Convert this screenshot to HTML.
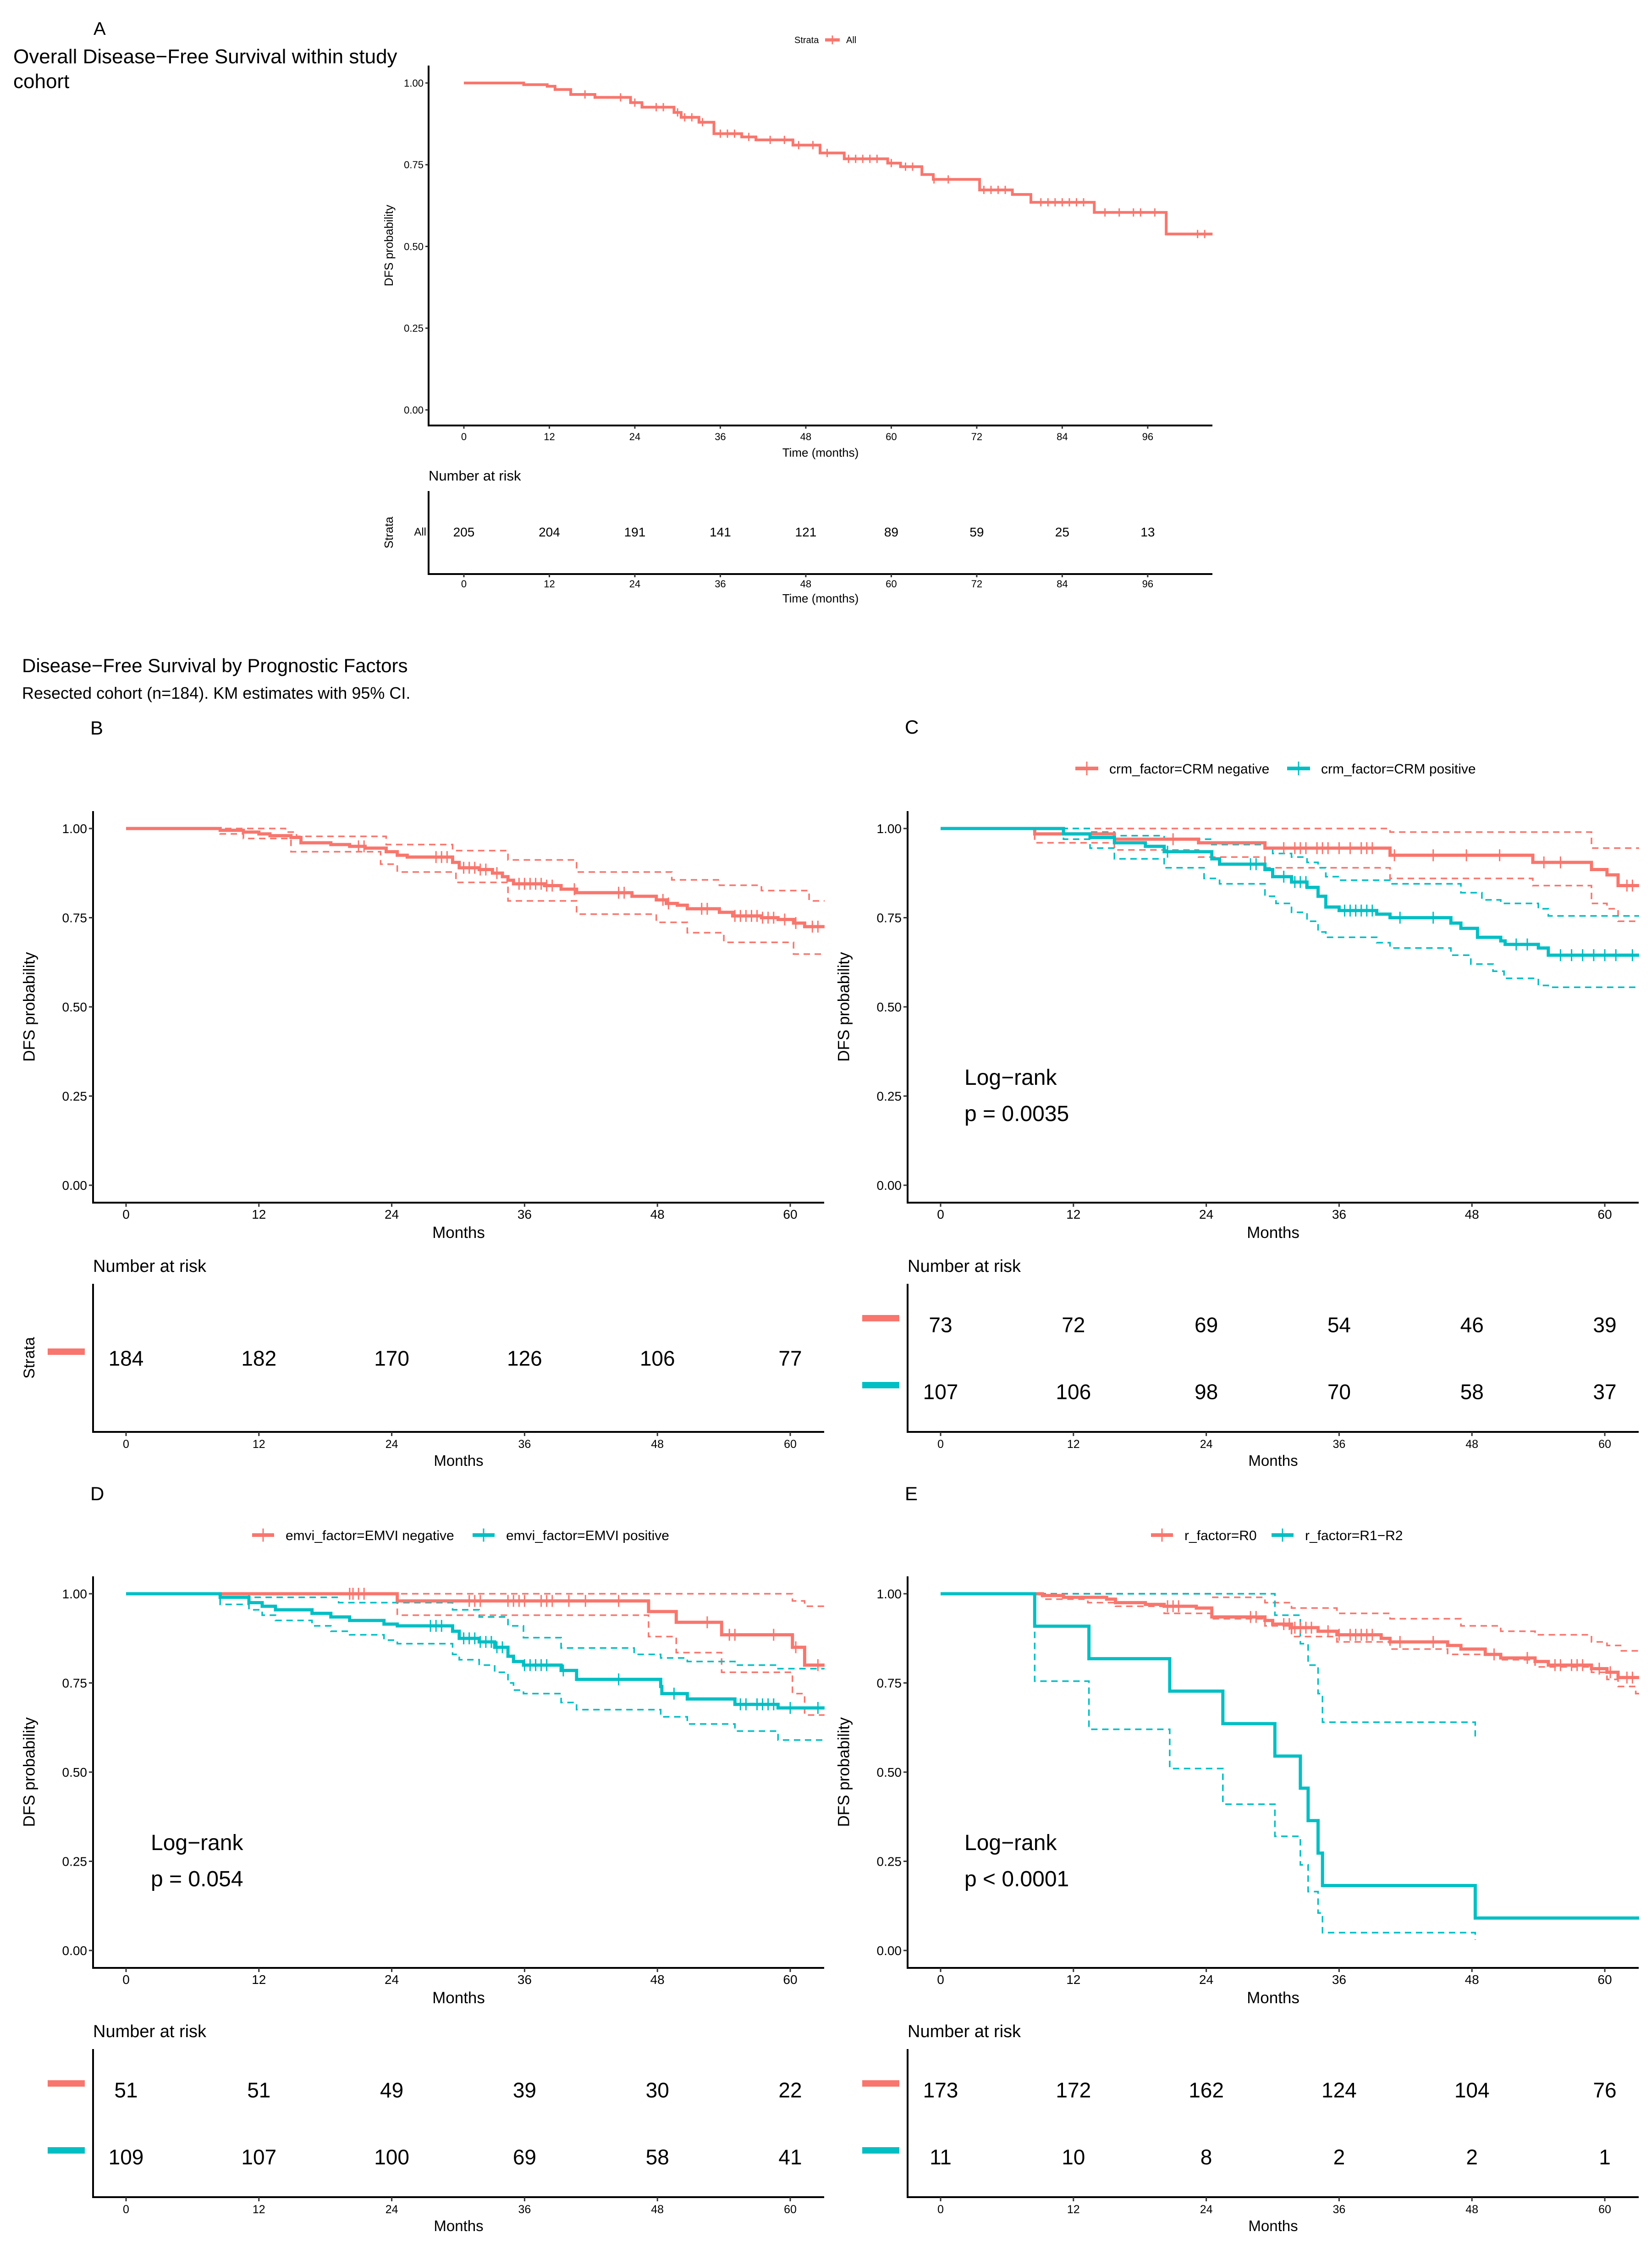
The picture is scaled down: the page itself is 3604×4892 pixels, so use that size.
<!DOCTYPE html>
<html><head><meta charset="utf-8"><title>DFS Kaplan-Meier figure</title>
<style>html,body{margin:0;padding:0;background:#fff}svg{display:block}text{font-family:"Liberation Sans",Arial,sans-serif;fill:#000}</style>
</head><body>
<svg id="fig" xmlns="http://www.w3.org/2000/svg" width="3604" height="4892" viewBox="0 0 3604 4892">
<rect x="0" y="0" width="3604" height="4892" fill="#fff"/>
<text x="204" y="76" font-size="40">A</text>
<text x="29" y="138" font-size="44">Overall Disease−Free Survival within study</text>
<text x="29" y="192" font-size="44">cohort</text>
<text x="48" y="1466" font-size="42">Disease−Free Survival by Prognostic Factors</text>
<text x="48" y="1524" font-size="36">Resected cohort (n=184). KM estimates with 95% CI.</text>
<text x="197" y="1602" font-size="42">B</text>
<text x="1974" y="1600" font-size="42">C</text>
<text x="197" y="3272" font-size="42">D</text>
<text x="1974" y="3272" font-size="42">E</text>
</svg>
<script>
// ---------- DATA ----------
const monthTicksA = [0,12,24,36,48,60,72,84,96];
const monthTicksB = [0,12,24,36,48,60];
const survTicks = [0,0.25,0.5,0.75,1];
const survTickLabels = ["0.00","0.25","0.50","0.75","1.00"];

// Panel A - All
const aTimes = [0,8.4,11.7,12.8,15,18.4,23.4,25,29.5,30.5,33,35.1,39,41,46.2,50,53.4,59.5,61.3,64.3,65.9,72.4,77,79.6,88.5,98.6];
const aSurv  = [1,0.995,0.99,0.98,0.965,0.956,0.94,0.926,0.91,0.895,0.88,0.845,0.835,0.826,0.81,0.786,0.768,0.755,0.744,0.72,0.705,0.673,0.659,0.635,0.604,0.538];
const aCensor = [17,22,24,27,28,30,31,32,33.5,36,37,38,40,43,45,47,49,51,54,55,56,57,58,60,62,63,66,68,73,74,75,76,81,82,83,84,85,86,87,90,92,94,95,97,103,104];
const aRisk = [205,204,191,141,121,89,59,25,13];

// Panel B - resected all
const bTimes = [0,8.5,10.6,12,13,14.9,15.8,18.5,20.2,21.6,23.5,24.5,25.4,29.5,30.1,31.9,33.1,34,34.5,35,37.8,39.3,40.7,45.7,47.9,48.8,49.8,50.7,53.6,54.8,57.4,58.9,60.3,61.3];
const bSurv  = [1,0.995,0.99,0.985,0.98,0.975,0.96,0.955,0.95,0.945,0.935,0.925,0.92,0.905,0.89,0.885,0.875,0.865,0.855,0.845,0.84,0.83,0.82,0.81,0.80,0.79,0.785,0.775,0.765,0.755,0.75,0.745,0.735,0.725];
const bUpTimes = [0,14.4,15.4,23.5,29.5,34.5,40.7,49.3,53.6,57.4,61.7];
const bUp      = [1,0.99,0.978,0.955,0.938,0.912,0.878,0.856,0.841,0.826,0.797];
const bLoTimes = [0,8.5,10.6,14.9,23,24.5,29.8,34.5,40.7,47.9,50.7,54,60.3];
const bLo      = [1,0.985,0.972,0.935,0.90,0.878,0.849,0.797,0.76,0.737,0.708,0.681,0.648];
const bCensor = [21,21.5,28,28.5,29,30.5,31,31.5,32,32.5,33.5,35.5,36,36.5,37,37.5,38,38.5,40.5,44.5,45,48.5,49,52,52.5,55,55.5,56,56.5,57,57.5,58,58.5,59.5,60.5,62,62.5];
const bRisk = [184,182,170,126,106,77];

// Panel C - CRM
const cNegTimes = [0,8.5,15.7,23.3,29.3,40.6,53.5,58.8,60.2,61.2];
const cNegSurv  = [1,0.985,0.97,0.96,0.945,0.925,0.905,0.885,0.87,0.84];
const cNegUpTimes = [0,40.6,58.8];
const cNegUp      = [1,0.99,0.945];
const cNegLoTimes = [0,8.5,15.7,23.3,29.3,40.6,53.5,58.8,60.2,61.2];
const cNegLo      = [1,0.96,0.94,0.92,0.89,0.86,0.84,0.79,0.775,0.74];
const cNegCensor = [21,31,32,32.5,33,34,34.5,35,36,37,38,38.5,39,41,44.5,47.5,50.5,54.5,56,62,62.5];
const cPosTimes = [0,11.1,13.5,15.7,18.5,20.2,24.5,25.2,29.3,30,31.7,33.1,34.1,34.8,36,39.4,40.6,46.1,47,48.5,50.6,51,54,54.9];
const cPosSurv  = [1,0.985,0.975,0.96,0.95,0.935,0.915,0.9,0.885,0.865,0.85,0.835,0.81,0.78,0.77,0.76,0.75,0.735,0.72,0.695,0.685,0.675,0.665,0.645];
const cPosUpTimes = [0,13.5,15.7,20.2,24.5,29.3,30,31.7,33.1,34.1,34.8,36,40.6,47,48.9,50.6,54,54.9];
const cPosUp      = [1,0.99,0.98,0.97,0.955,0.945,0.93,0.92,0.905,0.89,0.865,0.855,0.845,0.82,0.80,0.79,0.775,0.755];
const cPosLoTimes = [0,11.1,13.5,15.7,20.2,23.8,25.2,29.3,30.3,31.7,33.1,34.1,34.8,39.4,40.6,46.1,47.9,49.9,50.9,54,54.9];
const cPosLo      = [1,0.97,0.945,0.915,0.89,0.86,0.845,0.81,0.79,0.765,0.74,0.71,0.695,0.68,0.665,0.645,0.62,0.6,0.58,0.56,0.555];
const cPosCensor = [20.5,28,28.5,31,32,32.5,33,36.5,37,37.5,38,38.5,39,41.5,44.5,52,53,56,57,58,59,60,61,62.5];
const cRiskNeg = [73,72,69,54,46,39];
const cRiskPos = [107,106,98,70,58,37];

// Panel D - EMVI
const dNegTimes = [0,24.5,47.2,49.7,53.8,60.2,61.3];
const dNegSurv  = [1,0.98,0.95,0.92,0.885,0.85,0.80];
const dNegUpTimes = [0,60.2,61.3];
const dNegUp      = [1,0.98,0.965];
const dNegLoTimes = [0,24.5,47.2,49.7,53.8,60.2,61.3];
const dNegLo      = [1,0.94,0.88,0.835,0.78,0.72,0.66];
const dNegCensor = [20.2,20.5,21,21.5,31,31.5,32,34.5,35,35.5,36,37.5,38,38.5,40,41.5,44.5,52.5,54.5,55,58.5,60.5,62.5];
const dPosTimes = [0,8.5,11.1,12.3,13.5,16.8,18.5,20.2,23.3,24.5,29.5,30.1,31.9,33.3,34.5,35,35.9,39.3,40.7,48.3,48.4,50.7,55,58.9];
const dPosSurv  = [1,0.99,0.975,0.965,0.955,0.945,0.935,0.925,0.915,0.91,0.895,0.875,0.865,0.85,0.825,0.81,0.80,0.785,0.76,0.74,0.72,0.705,0.69,0.68];
const dPosUpTimes = [0,11.1,19.2,29.5,31.9,34.5,35.9,39.3,45.9,48.3,50.7,55,58.9];
const dPosUp      = [1,0.99,0.975,0.955,0.935,0.91,0.877,0.848,0.83,0.82,0.81,0.80,0.79];
const dPosLoTimes = [0,8.5,11.1,12.3,13.5,16.8,18.5,20.2,23.3,24.5,29.5,30.1,31.9,33.3,34.5,35,35.9,39.3,40.7,48.3,50.7,55,58.9];
const dPosLo      = [1,0.97,0.955,0.94,0.925,0.91,0.895,0.885,0.87,0.86,0.83,0.815,0.80,0.78,0.75,0.73,0.72,0.695,0.675,0.655,0.635,0.615,0.59];
const dPosCensor = [27.5,28,28.5,30.5,31,31.5,32,32.5,33,33.5,34,36,36.5,37,37.5,38,39.5,44.5,49.5,55.5,56,57,57.5,58,58.5,60,62.5];
const dRiskNeg = [51,51,49,39,30,22];
const dRiskPos = [109,107,100,69,58,41];

// Panel E - R status
const eR0Times = [0,9.2,11.1,15,15.8,18.5,20.2,23.1,24.5,29.3,30,31.7,34.1,35.8,39.8,40.6,45.8,47,49.2,50.6,53.7,54.9,58.8,60.2,61.2];
const eR0Surv  = [1,0.995,0.99,0.985,0.975,0.97,0.965,0.96,0.935,0.925,0.915,0.905,0.895,0.885,0.875,0.865,0.855,0.845,0.83,0.82,0.81,0.80,0.79,0.78,0.765];
const eR0UpTimes = [0,24.5,29.3,31.7,35.8,40.6,47,50.6,53.7,58.8,60.2,61.5];
const eR0Up      = [1,0.99,0.975,0.96,0.945,0.93,0.91,0.895,0.885,0.865,0.855,0.84];
const eR0LoTimes = [0,9.2,13.3,15.8,20.2,24.5,29.3,31.7,35.8,40.6,45.8,50.6,53.7,58.8,60.2,61.2,62.8];
const eR0Lo      = [1,0.985,0.975,0.965,0.945,0.93,0.91,0.88,0.865,0.845,0.83,0.815,0.795,0.78,0.76,0.74,0.72];
const eR0Censor = [20.5,21,21.5,28,28.5,31,31.5,32,32.5,33,33.5,35,36,37,37.5,38,38.5,39,41.5,44.5,50,53,55.5,56,57,57.5,58,59.5,60.5,62,62.5];
const eR1Times = [0,8.5,13.4,20.7,25.5,30.2,32.5,33.2,34.1,34.5,48.3];
const eR1Surv  = [1,0.909,0.818,0.727,0.636,0.545,0.455,0.364,0.273,0.182,0.091];
const eR1UpTimes = [0,30.2,32.5,33.2,34.1,34.5,48.3];
const eR1Up      = [1,0.94,0.86,0.80,0.72,0.64,0.60];
const eR1LoTimes = [0,8.5,13.4,20.7,25.5,30.2,32.5,33.2,34.1,34.5,48.3];
const eR1Lo      = [1,0.755,0.62,0.51,0.41,0.32,0.24,0.165,0.105,0.05,0.03];
const eR1Censor = [];
const eRiskR0 = [173,172,162,124,104,76];
const eRiskR1 = [11,10,8,2,2,1];

// ---------- DRAWING ----------
const RED = "#F8766D", CYAN = "#00BFC4";
const svg = document.getElementById('fig');
const NS = "http://www.w3.org/2000/svg";
function mk(tag, attrs, parent){
  const el = document.createElementNS(NS, tag);
  for (const k in attrs) el.setAttribute(k, attrs[k]);
  (parent||svg).appendChild(el);
  return el;
}
function txt(x,y,s,size,anchor,parent,extra){
  const el = mk('text', Object.assign({x:x,y:y,'font-size':size,'text-anchor':anchor||'start'}, extra||{}), parent);
  el.textContent = s;
  return el;
}
function survAt(times, surv, t){
  let v = surv[0];
  for (let i=0;i<times.length;i++){ if (times[i] <= t) v = surv[i]; }
  return v;
}
function makeAxes(g){
  const xf = m => g.x0 + m*g.ppm;
  const yf = v => g.y0 - v*(g.y0-g.y1);
  return {xf, yf};
}
function stepPath(times, surv, end, ax){
  let d = 'M' + ax.xf(times[0]).toFixed(1) + ' ' + ax.yf(surv[0]).toFixed(1);
  for (let i=1;i<times.length;i++){
    d += ' H' + ax.xf(times[i]).toFixed(1) + ' V' + ax.yf(surv[i]).toFixed(1);
  }
  d += ' H' + ax.xf(end).toFixed(1);
  return d;
}

function drawFrame(g, name){
  const ax = makeAxes(g);
  const grp = mk('g', {});
  
  
  const yAxis = mk('line', {x1:g.left,y1:g.top,x2:g.left,y2:g.bottom+g.aw/2,stroke:'#000','stroke-width':g.aw}, grp);
  
  
  const xAxis = mk('line', {x1:g.left-g.aw/2,y1:g.bottom,x2:g.right,y2:g.bottom,stroke:'#000','stroke-width':g.aw}, grp);
  
  
  survTicks.forEach((v,i)=>{
    const tk = mk('line', {x1:g.left-g.tl,y1:ax.yf(v),x2:g.left,y2:ax.yf(v),stroke:'#333','stroke-width':3}, grp);
    
    
    const lb = txt(g.left-g.tl-4, ax.yf(v)+g.tf*0.36, survTickLabels[i], g.tf, 'end', grp, {fill:'#222'});
    
    
  });
  g.ticks.forEach(m=>{
    const tk = mk('line', {x1:ax.xf(m),y1:g.bottom,x2:ax.xf(m),y2:g.bottom+g.tl,stroke:'#333','stroke-width':3}, grp);
    
    
    const lb = txt(ax.xf(m), g.xTickY, String(m), g.tf, 'middle', grp, {fill:'#222'});
    
    
  });
  const xt = txt((g.left+g.right)/2, g.xTitleY, g.xTitle, g.titleF, 'middle', grp);
  
  
  const cy = (g.top+g.bottom)/2;
  const yt = txt(g.yLabX, cy, 'DFS probability', g.titleF, 'middle', grp, {transform:'rotate(-90 '+g.yLabX+' '+cy+')', dy: (g.titleF*0.35)});
  
  
  return {ax, grp};
}

function drawSeries(grp, ax, g, times, surv, censor, color, name, lw){
  const p = mk('path', {d:stepPath(times,surv,g.end,ax),fill:'none',stroke:color,'stroke-width':lw,'stroke-linejoin':'miter'}, grp);
  
  
  censor.forEach(t=>{
    const x = ax.xf(t), y = ax.yf(survAt(times,surv,t));
    const c = mk('line', {x1:x,y1:y-g.ch,x2:x,y2:y+g.ch,stroke:color,'stroke-width':3}, grp);
    
    
  });
}
function drawCI(grp, ax, g, times, vals, end, color, name){
  const p = mk('path', {d:stepPath(times,vals,end,ax),fill:'none',stroke:color,'stroke-width':3.5,'stroke-dasharray':'14 10'}, grp);
  
  
}

function drawRisk(r, g, rows, name){
  const ax = makeAxes(g);
  const grp = mk('g', {});
  
  
  const t = txt(g.left, r.headY, 'Number at risk', r.headF, 'start', grp);
  
  
  const ya = mk('line', {x1:g.left,y1:r.top,x2:g.left,y2:r.bottom+g.aw/2,stroke:'#000','stroke-width':g.aw}, grp);
  
  
  const xa = mk('line', {x1:g.left-g.aw/2,y1:r.bottom,x2:g.right,y2:r.bottom,stroke:'#000','stroke-width':g.aw}, grp);
  
  
  g.ticks.forEach(m=>{
    const tk = mk('line', {x1:ax.xf(m),y1:r.bottom,x2:ax.xf(m),y2:r.bottom+g.tl,stroke:'#333','stroke-width':3}, grp);
    
    
    const lb = txt(ax.xf(m), r.tickY, String(m), r.tickF, 'middle', grp, {fill:'#222'});
    
    
  });
  const xt = txt((g.left+g.right)/2, r.titleY, g.xTitle, r.titleF, 'middle', grp);
  
  
  rows.forEach(row=>{
    row.vals.forEach((v,i)=>{
      const n = txt(ax.xf(g.ticks[i]), row.y + r.numF*0.36, String(v), r.numF, 'middle', grp);
      
      
    });
    if (row.bar){
      const b = mk('rect', {x:g.left-99, y:row.y-21, width:81, height:14, fill:row.color}, grp);
      
      
    }
    if (row.label){
      const l = txt(g.left-5, row.y + 8, row.label, 24, 'end', grp, {fill:row.color});
      
      
    }
  });
  if (r.strata){
    const cy = (r.top+r.bottom)/2;
    const s = txt(g.yLabX, cy, 'Strata', r.strataF, 'middle', grp, {transform:'rotate(-90 '+g.yLabX+' '+cy+')', dy:r.strataF*0.35});
    
    
  }
}

function drawLegend(items, y, size){
  const grp = mk('g', {});
  
  
  items.forEach(it=>{
    if (it.title){
      const t = txt(it.x, y + size*0.36, it.title, size, 'start', grp);
      
      
      return;
    }
    const ln = mk('line', {x1:it.x,y1:y,x2:it.x+it.w,y2:y,stroke:it.color,'stroke-width':it.lw}, grp);
    
    
    const tk = mk('line', {x1:it.x+it.w/2,y1:y-it.w*0.3,x2:it.x+it.w/2,y2:y+it.w*0.3,stroke:it.color,'stroke-width':3}, grp);
    
    
    const t = txt(it.x+it.w+it.gap, y + size*0.36, it.label, size, 'start', grp);
    
    
  });
}

// ----- Panel A -----
const gA = {left:935,x0:1012,ppm:15.54,right:2645,y1:181,y0:894,top:143,bottom:928,end:105.1,
  ticks:monthTicksA,tf:22,tl:7,aw:4,titleF:26,xTickY:960,xTitleY:996,xTitle:'Time (months)',yLabX:848,ch:9};
{
  const f = drawFrame(gA, 'panel-a');
  drawSeries(f.grp, f.ax, gA, aTimes, aSurv, aCensor, RED, 'all', 6);
  drawRisk({headY:1048,headF:31,top:1071,bottom:1252,tickY:1281,tickF:22,titleY:1314,titleF:26,numF:28,strata:true,strataF:26},
    gA, [{y:1160, vals:aRisk, label:'All', color:RED}], 'panel-a');
  drawLegend([{x:1733,title:'Strata'},{x:1800,w:32,lw:7,gap:14,color:RED,label:'All'}], 87, 20);
}

// ----- Panels B-E -----
function gFor(dx, dy){
  return {left:203+dx,x0:275+dx,ppm:24.15,right:1798+dx,y1:1807+dy,y0:2585+dy,top:1769+dy,bottom:2623+dy,end:63.1,
    ticks:monthTicksB,tf:28,tl:9,aw:4,titleF:35,xTickY:2658+dy,xTitleY:2700+dy,xTitle:'Months',yLabX:63+dx,ch:13};
}
function riskFor(dy){
  return {headY:2774+dy,headF:38,top:2800+dy,bottom:3123+dy,tickY:3158+dy,tickF:25,titleY:3197+dy,titleF:33,numF:46,strata:false,strataF:34};
}
// B
const gB = gFor(0,0);
{
  const f = drawFrame(gB, 'panel-b');
  drawCI(f.grp, f.ax, gB, bUpTimes, bUp, 63.1, RED, 'all-ci-upper');
  drawCI(f.grp, f.ax, gB, bLoTimes, bLo, 63.1, RED, 'all-ci-lower');
  drawSeries(f.grp, f.ax, gB, bTimes, bSurv, bCensor, RED, 'resected-all', 7);
  const rB = riskFor(0); rB.strata = true;
  drawRisk(rB, gB, [{y:2962, vals:bRisk, bar:true, color:RED}], 'panel-b');
}
function twoGroup(dx, dy, name, s1, s2, risk1, risk2, pText){
  const g = gFor(dx,dy);
  const f = drawFrame(g, name);
  drawCI(f.grp, f.ax, g, s1.upT, s1.up, s1.ciEnd, RED, s1.name+'-ci-upper');
  drawCI(f.grp, f.ax, g, s1.loT, s1.lo, s1.ciEnd, RED, s1.name+'-ci-lower');
  drawCI(f.grp, f.ax, g, s2.upT, s2.up, s2.ciEnd, CYAN, s2.name+'-ci-upper');
  drawCI(f.grp, f.ax, g, s2.loT, s2.lo, s2.ciEnd, CYAN, s2.name+'-ci-lower');
  drawSeries(f.grp, f.ax, g, s1.t, s1.s, s1.c, RED, s1.name, 7);
  drawSeries(f.grp, f.ax, g, s2.t, s2.s, s2.c, CYAN, s2.name, 7);
  const lr = txt(g.left + (dx?124:126), 2366+dy, 'Log−rank', 48, 'start', f.grp);
  
  
  const pv = txt(g.left + (dx?124:126), 2445+dy, pText, 48, 'start', f.grp);
  
  
  drawRisk(riskFor(dy), g, [{y:2889+dy, vals:risk1, bar:true, color:RED},{y:3035+dy, vals:risk2, bar:true, color:CYAN}], name);
}
twoGroup(1777, 0, 'panel-c',
  {name:'crm-negative',t:cNegTimes,s:cNegSurv,c:cNegCensor,upT:cNegUpTimes,up:cNegUp,loT:cNegLoTimes,lo:cNegLo,ciEnd:63.1},
  {name:'crm-positive',t:cPosTimes,s:cPosSurv,c:cPosCensor,upT:cPosUpTimes,up:cPosUp,loT:cPosLoTimes,lo:cPosLo,ciEnd:63.1},
  cRiskNeg, cRiskPos, 'p = 0.0035');
drawLegend([{x:2346,w:50,lw:8,gap:24,color:RED,label:'crm_factor=CRM negative'},{x:2808,w:50,lw:8,gap:24,color:CYAN,label:'crm_factor=CRM positive'}], 1676, 30);

twoGroup(0, 1669, 'panel-d',
  {name:'emvi-negative',t:dNegTimes,s:dNegSurv,c:dNegCensor,upT:dNegUpTimes,up:dNegUp,loT:dNegLoTimes,lo:dNegLo,ciEnd:63.1},
  {name:'emvi-positive',t:dPosTimes,s:dPosSurv,c:dPosCensor,upT:dPosUpTimes,up:dPosUp,loT:dPosLoTimes,lo:dPosLo,ciEnd:63.1},
  dRiskNeg, dRiskPos, 'p = 0.054');
drawLegend([{x:550,w:48,lw:8,gap:25,color:RED,label:'emvi_factor=EMVI negative'},{x:1031,w:48,lw:8,gap:25,color:CYAN,label:'emvi_factor=EMVI positive'}], 3348, 30);

twoGroup(1777, 1669, 'panel-e',
  {name:'r0',t:eR0Times,s:eR0Surv,c:eR0Censor,upT:eR0UpTimes,up:eR0Up,loT:eR0LoTimes,lo:eR0Lo,ciEnd:63.1},
  {name:'r1-r2',t:eR1Times,s:eR1Surv,c:eR1Censor,upT:eR1UpTimes,up:eR1Up,loT:eR1LoTimes,lo:eR1Lo,ciEnd:48.3},
  eRiskR0, eRiskR1, 'p < 0.0001');
drawLegend([{x:2511,w:48,lw:8,gap:25,color:RED,label:'r_factor=R0'},{x:2774,w:48,lw:8,gap:25,color:CYAN,label:'r_factor=R1−R2'}], 3348, 30);
</script>
</body></html>
